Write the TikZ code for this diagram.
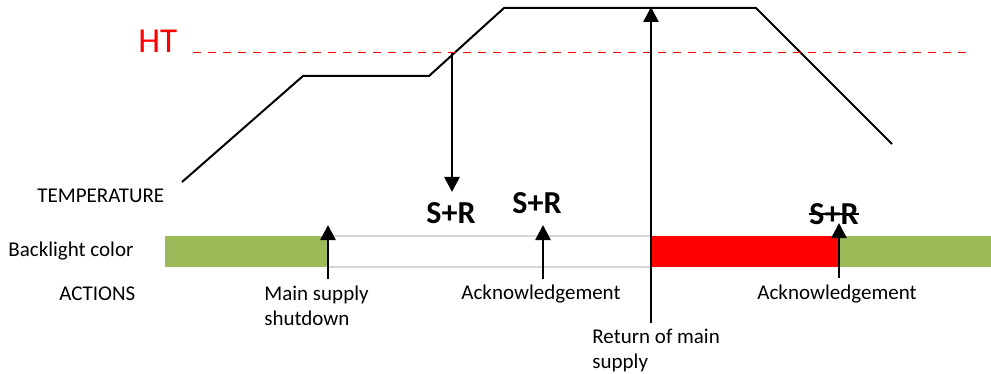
\documentclass[tikz,border=0pt]{standalone}
\usepackage{fontspec}
\setmainfont{Carlito}
\usetikzlibrary{arrows.meta,positioning}
\definecolor{htred}{RGB}{255,0,0}
\definecolor{okgreen}{RGB}{155,187,89}
\definecolor{bandgrey}{RGB}{215,215,215}
\begin{document}
\begin{tikzpicture}[x=0.5pt,y=-0.5pt,
  every node/.style={font=\fontsize{10.5}{12.5}\selectfont,inner sep=0pt},
  sr/.style={font=\fontsize{16}{18}\selectfont\bfseries},
  evarrow/.style={line width=1.3pt,-{Triangle[width=7.5pt,length=7.5pt]}}]
\useasboundingbox (0,0) rectangle (991,374);
% temperature curve
\coordinate (t0) at (182,182);
\coordinate (t1) at (303,76);
\coordinate (t2) at (429,76);
\coordinate (t3) at (504,8);
\coordinate (t4) at (756,8);
\coordinate (t5) at (892,144);
\draw[line width=1pt] (t0)--(t1)--(t2)--(t3)--(t4)--(t5);
% threshold
\coordinate (h0) at (193,52.5);
\coordinate (h1) at (967,52.5);
\draw[htred,line width=0.75pt,dash pattern=on 4pt off 3.5pt] (h0)--(h1);
\node[anchor=west,text=htred,font=\fontsize{17.5}{20}\selectfont] (ht) at (138,41) {HT};
% row labels
\node[anchor=west] (temp) at (37,196) {TEMPERATURE};
\node[anchor=west] (back) at (8,251) {Backlight color};
\node[anchor=west] (act) at (59,294) {ACTIONS};
% backlight band
\fill[okgreen] (165,236) rectangle (328,267);
\draw[bandgrey,line width=0.6pt] (328,236)--(651,236) (328,267)--(651,267);
\fill[htred] (651,236) rectangle (838,267);
\fill[okgreen] (838,236) rectangle (991,267);
% S+R marks
\node[sr] (sr1) at (451,213) {S+R};
\node[sr] (sr2) at (537,203) {S+R};
\node[sr] (sr3) at (834,214) {S+R};
\draw[line width=1pt] (sr3.west)--(sr3.east);
% action labels
\node[anchor=north west,align=left] (shut) at (264,286) {Main supply\\shutdown};
\node (ack1) at (541,294) {Acknowledgement};
\node[anchor=north west,align=left] (ret) at (592,329) {Return of main\\supply};
\node (ack2) at (837,294) {Acknowledgement};
% events
\coordinate (a0) at (452,53);   \coordinate (a1) at (452,192);
\coordinate (b0) at (328,279);  \coordinate (b1) at (328,225);
\coordinate (c0) at (543,279);  \coordinate (c1) at (543,225);
\coordinate (d0) at (651,323);  \coordinate (d1) at (651,7);
\coordinate (e0) at (839,278);  \coordinate (e1) at (839,223);
\draw[evarrow] (a0)--(a1);
\draw[evarrow] (b0)--(b1);
\draw[evarrow] (c0)--(c1);
\draw[evarrow] (d0)--(d1);
\draw[evarrow] (e0)--(e1);
\end{tikzpicture}
\end{document}
